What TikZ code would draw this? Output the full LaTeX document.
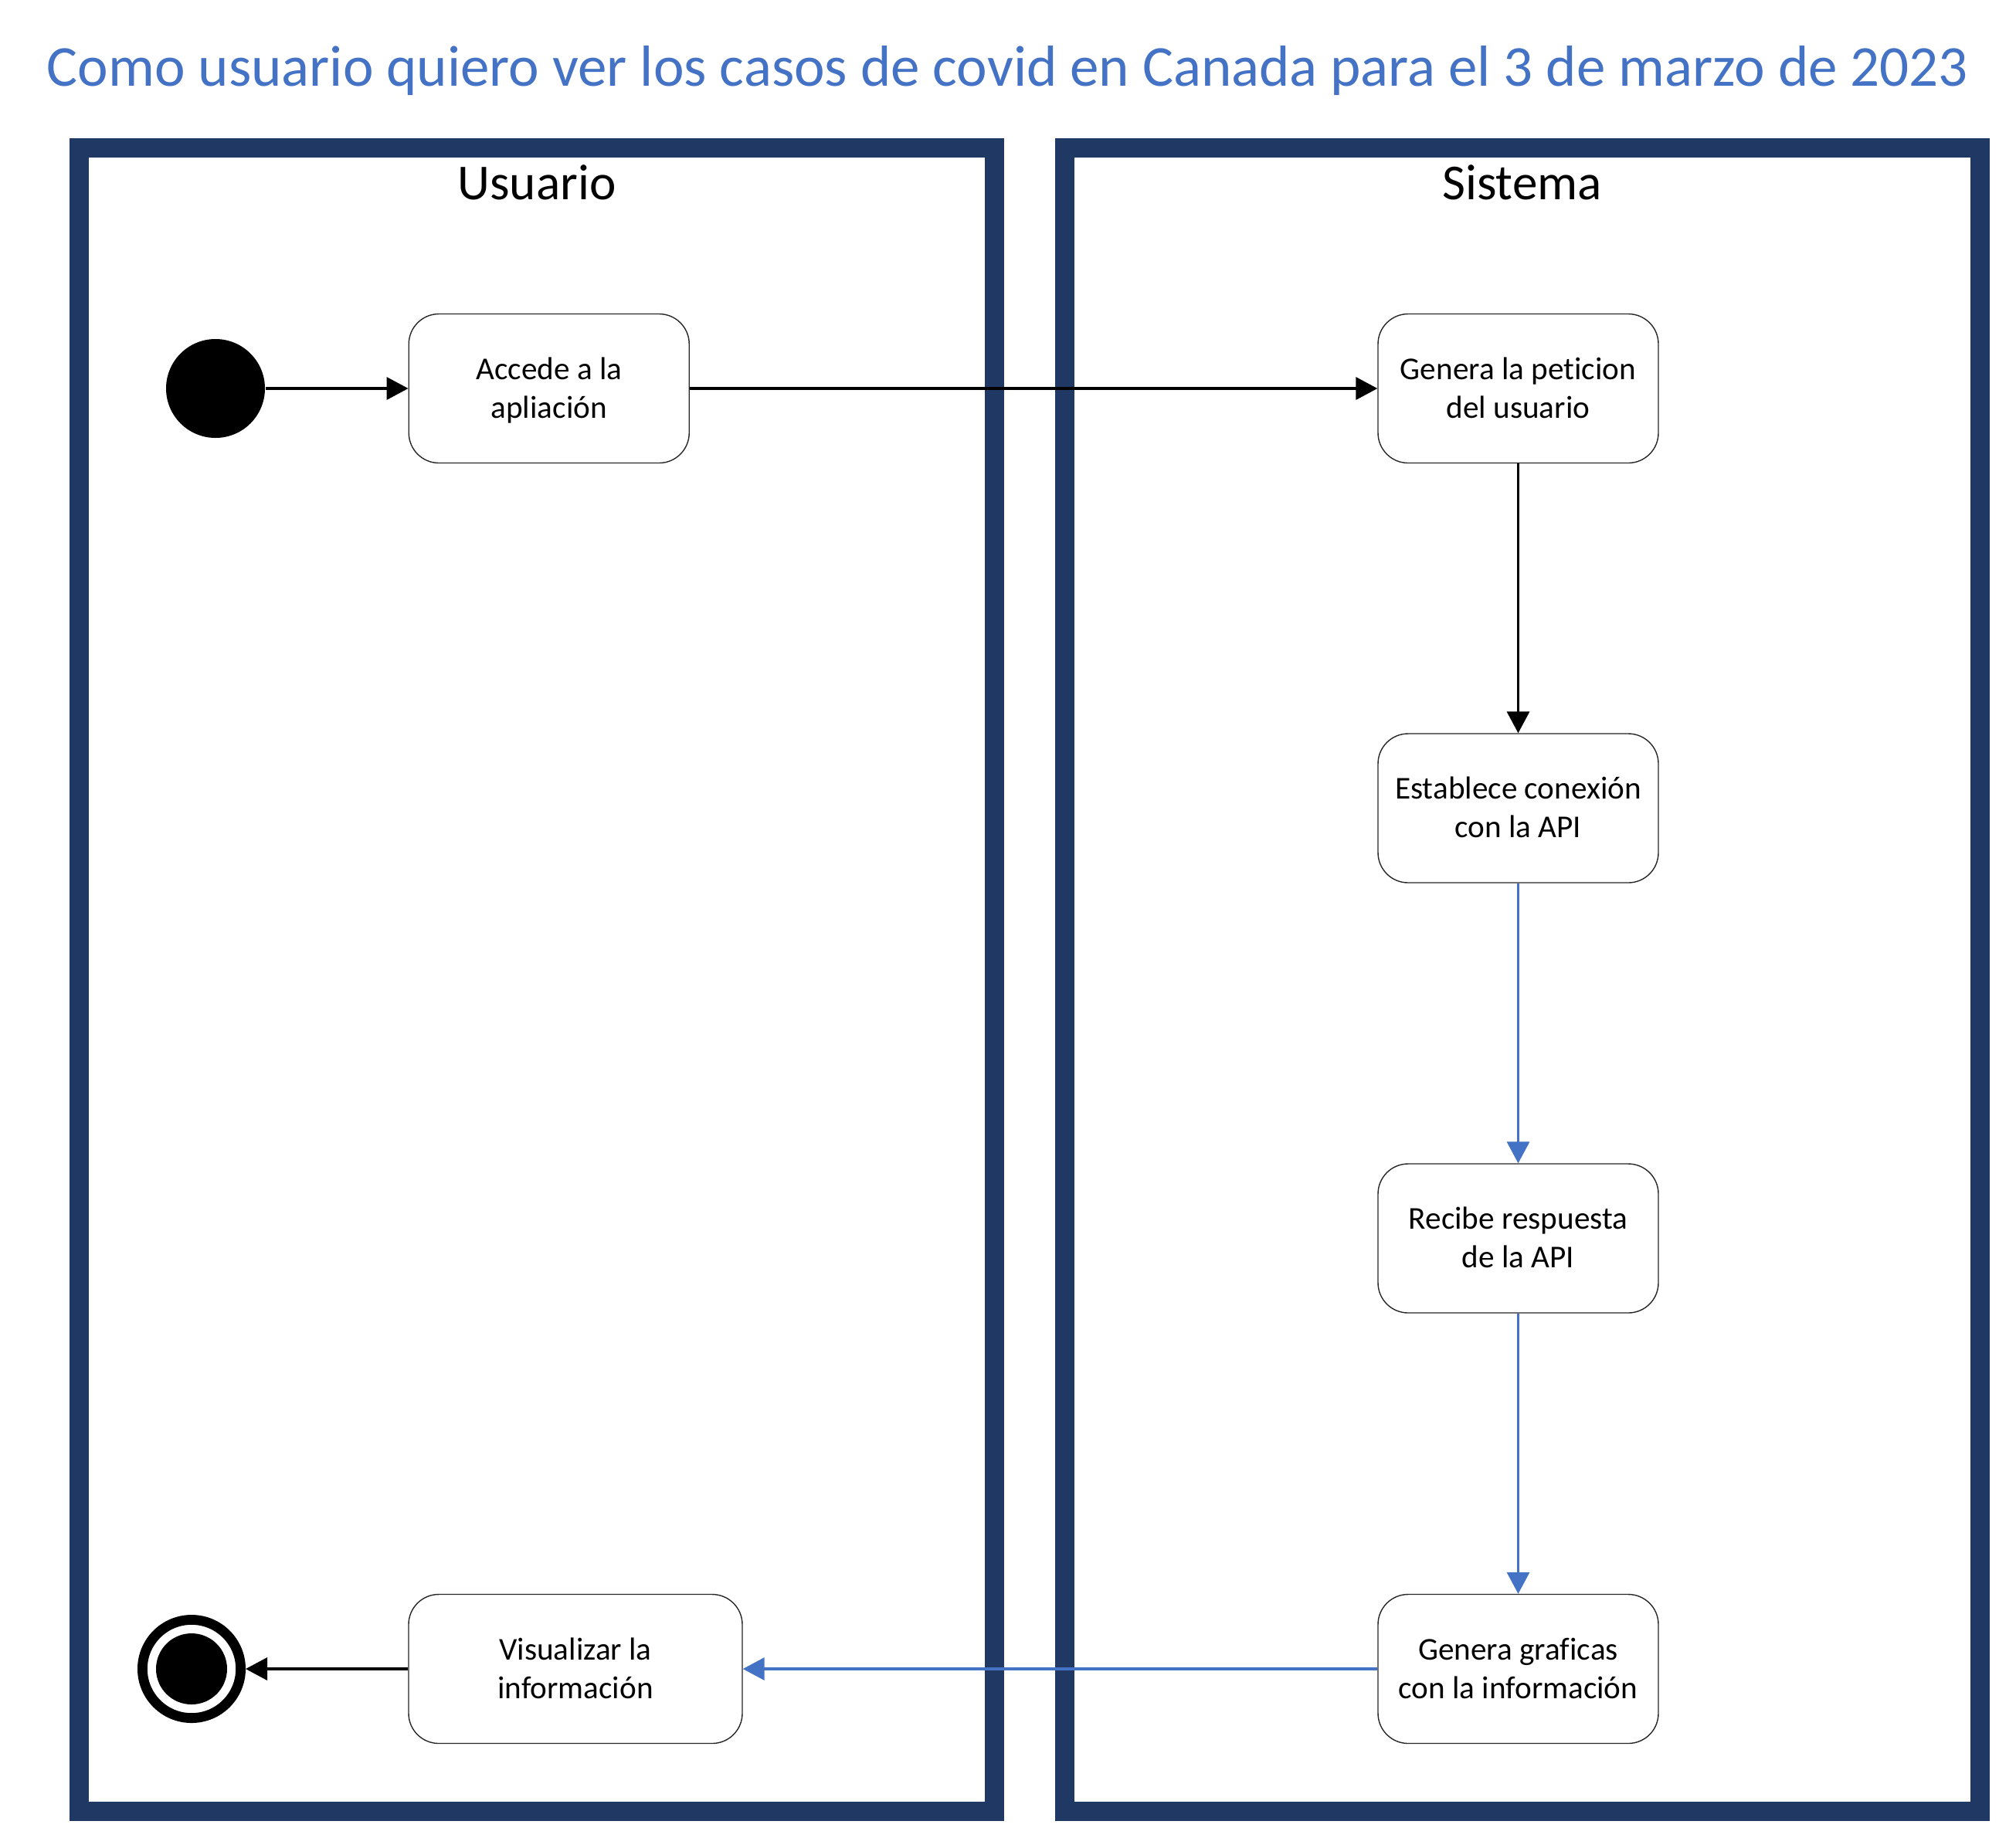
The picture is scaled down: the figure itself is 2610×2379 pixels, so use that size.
\documentclass[tikz,border=0pt]{standalone}
\usepackage{fontspec}
\setmainfont{Carlito}[Ligatures=CommonOff]
\usetikzlibrary{arrows.meta}
\definecolor{lanecol}{RGB}{32,56,100}
\definecolor{flowblue}{RGB}{68,114,196}
\begin{document}
\begin{tikzpicture}[x=0.25pt,y=-0.25pt,
  lane/.style={draw=lanecol,line width=6.25pt,minimum width=296.25pt,minimum height=538.5pt,inner sep=0pt},
  lanetitle/.style={anchor=base,font=\fontsize{16.3}{19.5}\selectfont},
  act/.style={draw=black!85,line width=0.35pt,rounded corners=9.75pt,minimum width=90.75pt,minimum height=48.25pt,inner sep=0pt,align=center,font=\fontsize{10.3}{12.5}\selectfont,text height=24pt,text depth=4.9pt},
  flow/.style={line width=0.86pt,-{Triangle[length=7pt,width=7.25pt]}},
  blueflow/.style={flow,color=flowblue}
]
\useasboundingbox (0,0) rectangle (2610,2379);
\fill[white] (0,0) rectangle (2610,2379);
\node[anchor=base,text=flowblue,font=\fontsize{18.75}{22}\selectfont] (title) at (1304.5,111) {Como usuario quiero ver los casos de covid en Canada para el 3 de marzo de 2023};
\node[lane] (lane1) at (695,1268.5) {};
\node[lane] (lane2) at (1970.5,1268.5) {};
\node[lanetitle] (t1) at (695,258) {Usuario};
\node[lanetitle] (t2) at (1970.5,258) {Sistema};
\node[circle,fill=black,minimum size=32pt,inner sep=0pt] (start) at (279,503) {};
\node[act] (a1) at (710.75,503) {Accede a la\\apliación};
\node[act] (a2) at (1965.5,503) {Genera la peticion\\del usuario};
\node[act] (a3) at (1965.5,1046.5) {Establece conexión\\con la API};
\node[act] (a4) at (1965.5,1603.5) {Recibe respuesta\\de la API};
\node[act] (a5) at (1965.5,2161) {Genera graficas\\con la información};
\node[act,minimum width=108pt] (a6) at (745,2161) {Visualizar la\\información};
\node[circle,draw=black,line width=3.2pt,minimum size=31.8pt,inner sep=0pt] (end) at (248,2161) {};
\fill (end.center) circle[radius=11.5pt];
\draw[flow] (start) -- (a1);
\draw[flow] (a1) -- (a2);
\draw[flow] (a2) -- (a3);
\draw[blueflow] (a3) -- (a4);
\draw[blueflow] (a4) -- (a5);
\draw[blueflow] (a5) -- (a6);
\draw[flow] (a6) -- (end);
\end{tikzpicture}
\end{document}
